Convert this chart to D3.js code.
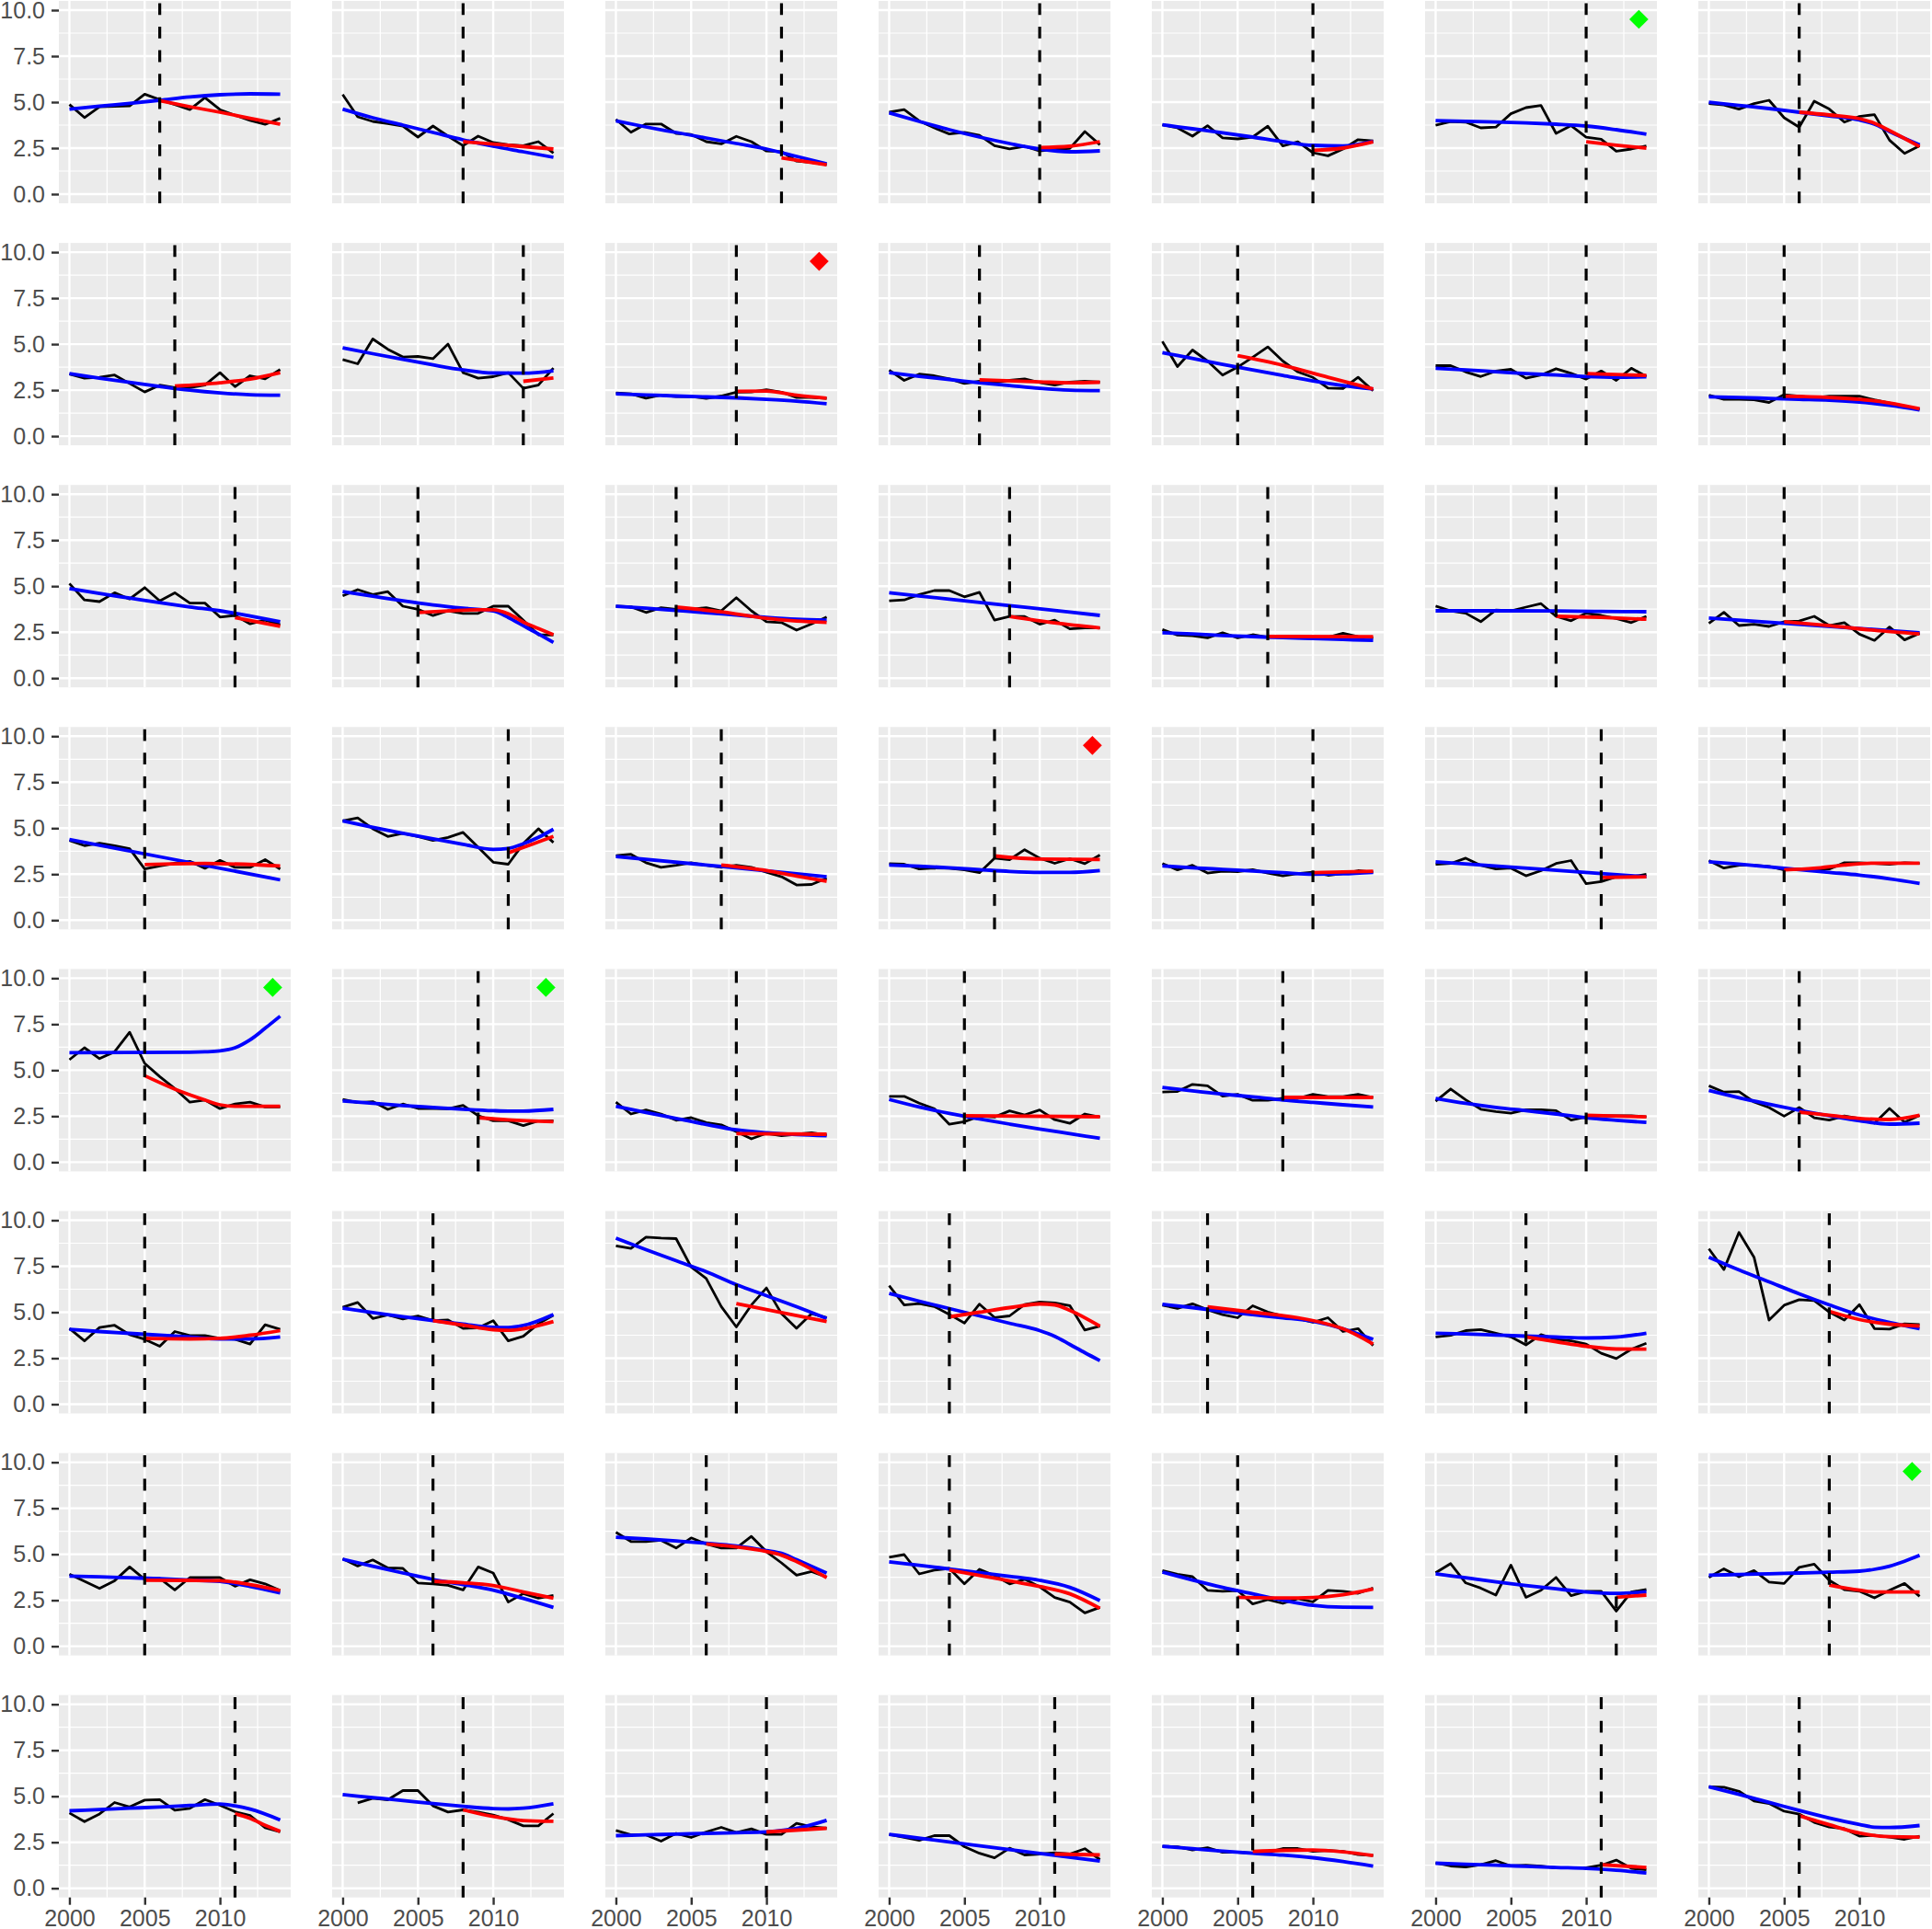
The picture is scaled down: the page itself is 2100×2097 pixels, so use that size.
<!DOCTYPE html>
<html>
<head>
<meta charset="utf-8">
<script src="https://cdn.jsdelivr.net/npm/d3@7"></script>
<style>
    body{margin:0;background:#ffffff;}
    svg text{font-family:"Liberation Sans", Arial, sans-serif;}
</style>
</head>
<body>
<div id="chart"></div>
<script>
// ---- data (panels in row-major order, 8 rows x 7 columns) ----
const years = [2000,2001,2002,2003,2004,2005,2006,2007,2008,2009,2010,2011,2012,2013,2014];
const xTickValues = [2000,2005,2010];
const yTickValues = [0,2.5,5,7.5,10];

const observed = [
    [4.87,4.16,4.74,4.77,4.79,5.43,5.13,4.87,4.59,5.24,4.59,4.29,4.0,3.79,4.12],
    [5.41,4.2,3.95,3.83,3.7,3.1,3.7,3.15,2.63,3.15,2.8,2.68,2.63,2.85,2.23],
    [4.06,3.36,3.81,3.81,3.3,3.24,2.85,2.73,3.14,2.85,2.34,2.31,1.79,1.72,1.59],
    [4.45,4.59,3.98,3.6,3.27,3.36,3.19,2.63,2.46,2.6,2.34,2.43,2.48,3.4,2.68],
    [3.77,3.6,3.15,3.72,3.06,3.0,3.1,3.69,2.62,2.84,2.25,2.08,2.45,2.96,2.89],
    [3.74,3.94,3.91,3.6,3.64,4.37,4.7,4.82,3.3,3.72,3.09,2.98,2.33,2.45,2.62],
    [4.92,4.84,4.62,4.92,5.1,4.15,3.64,5.05,4.62,3.91,4.22,4.32,2.93,2.21,2.62],

    [3.37,3.15,3.2,3.32,2.86,2.4,2.77,2.64,2.64,2.77,3.45,2.69,3.28,3.11,3.62],
    [4.16,3.93,5.28,4.72,4.3,4.33,4.21,5.0,3.45,3.15,3.23,3.45,2.6,2.77,3.7],
    [2.35,2.3,2.06,2.23,2.15,2.15,2.05,2.18,2.39,2.4,2.52,2.39,2.1,2.1,2.05],
    [3.59,3.03,3.37,3.28,3.11,2.86,2.98,2.91,3.03,3.11,2.91,2.77,2.94,2.98,2.94],
    [5.15,3.78,4.68,4.08,3.32,3.75,4.29,4.85,4.08,3.49,3.19,2.61,2.59,3.2,2.47],
    [3.83,3.83,3.49,3.24,3.53,3.63,3.15,3.32,3.66,3.41,3.1,3.54,3.03,3.69,3.24],
    [2.22,2.0,2.0,1.97,1.83,2.25,2.17,2.08,2.17,2.17,2.17,1.97,1.8,1.63,1.46],

    [5.14,4.25,4.16,4.64,4.3,4.92,4.2,4.64,4.08,4.08,3.32,3.41,2.95,3.15,2.9],
    [4.47,4.81,4.54,4.7,3.91,3.74,3.4,3.66,3.52,3.52,3.91,3.91,3.15,2.36,2.34],
    [3.91,3.88,3.57,3.83,3.74,3.74,3.83,3.66,4.37,3.66,3.07,3.02,2.61,2.95,3.32],
    [4.2,4.25,4.54,4.76,4.76,4.42,4.67,3.15,3.35,3.35,2.93,3.15,2.68,2.73,2.73],
    [2.64,2.34,2.31,2.19,2.47,2.19,2.36,2.22,2.27,2.27,2.22,2.22,2.44,2.25,2.19],
    [3.92,3.66,3.53,3.07,3.7,3.66,3.86,4.05,3.36,3.12,3.53,3.41,3.24,3.02,3.36],
    [2.98,3.58,2.86,2.93,2.81,3.07,3.1,3.36,2.86,3.02,2.39,2.05,2.78,2.08,2.44],

    [4.33,4.05,4.18,4.05,3.88,2.78,2.95,3.09,3.2,2.82,3.25,2.87,2.87,3.29,2.78],
    [5.4,5.56,4.97,4.55,4.72,4.55,4.33,4.5,4.77,3.96,3.15,3.04,4.16,4.97,4.22],
    [3.51,3.58,3.12,2.87,2.98,3.12,2.98,2.87,2.98,2.87,2.61,2.36,1.91,1.94,2.28],
    [3.07,3.04,2.78,2.83,2.82,2.73,2.58,3.37,3.29,3.83,3.37,3.09,3.34,3.07,3.54],
    [3.08,2.73,2.98,2.56,2.66,2.64,2.75,2.56,2.41,2.53,2.61,2.44,2.53,2.69,2.61],
    [3.03,3.08,3.37,2.98,2.78,2.83,2.41,2.69,3.08,3.24,1.98,2.1,2.36,2.36,2.49],
    [3.24,2.83,2.98,2.98,2.92,2.73,2.78,2.78,2.78,3.12,3.12,3.08,3.03,3.12,3.08],

    [5.57,6.22,5.63,6.0,7.06,5.37,4.65,4.0,3.26,3.38,2.91,3.16,3.26,3.0,3.0],
    [3.41,3.24,3.29,2.87,3.16,2.92,2.92,2.9,3.09,2.53,2.25,2.25,1.99,2.25,2.25],
    [3.26,2.62,2.84,2.62,2.28,2.42,2.15,2.03,1.66,1.27,1.57,1.44,1.52,1.6,1.47],
    [3.58,3.58,3.21,2.91,2.06,2.2,2.5,2.45,2.79,2.57,2.84,2.31,2.11,2.62,2.45],
    [3.81,3.84,4.23,4.15,3.59,3.69,3.36,3.36,3.47,3.47,3.69,3.56,3.56,3.69,3.52],
    [3.31,3.98,3.39,2.88,2.75,2.66,2.85,2.85,2.8,2.29,2.46,2.53,2.53,2.53,2.46],
    [4.15,3.81,3.84,3.27,2.97,2.5,2.97,2.41,2.29,2.51,2.38,2.12,2.92,2.17,2.55],

    [4.12,3.44,4.17,4.29,3.78,3.53,3.15,3.95,3.73,3.73,3.58,3.53,3.27,4.32,4.07],
    [5.27,5.53,4.66,4.85,4.63,4.8,4.54,4.58,4.12,4.15,4.54,3.44,3.69,4.37,4.83],
    [8.61,8.47,9.08,9.03,9.0,7.46,6.83,5.31,4.2,5.39,6.32,4.92,4.12,4.92,4.71],
    [6.44,5.39,5.47,5.31,4.88,4.41,5.44,4.71,4.8,5.42,5.56,5.5,5.36,4.03,4.24],
    [5.38,5.21,5.46,5.13,4.87,4.7,5.35,5.01,4.79,4.65,4.45,4.7,3.95,4.11,3.19],
    [3.66,3.74,4.0,4.06,3.86,3.66,3.22,3.78,3.52,3.44,3.27,2.77,2.48,2.99,3.31],
    [8.45,7.32,9.34,7.99,4.57,5.38,5.68,5.63,5.01,4.57,5.41,4.11,4.08,4.37,4.33],

    [3.92,3.53,3.14,3.56,4.31,3.64,3.69,3.06,3.73,3.73,3.73,3.26,3.61,3.39,3.03],
    [4.76,4.36,4.69,4.26,4.23,3.44,3.39,3.31,3.06,4.31,3.98,2.4,2.86,2.61,2.76],
    [6.19,5.69,5.69,5.76,5.34,5.89,5.56,5.34,5.34,5.97,5.14,4.53,3.86,4.06,3.76],
    [4.84,4.98,3.93,4.14,4.23,3.39,4.18,3.84,3.39,3.64,3.23,2.65,2.4,1.81,2.11],
    [4.11,3.91,3.78,3.04,2.99,3.03,2.3,2.53,2.33,2.58,2.41,3.04,2.99,2.88,3.16],
    [3.99,4.49,3.44,3.16,2.78,4.41,2.66,3.04,3.74,2.75,2.99,2.99,1.91,2.95,3.08],
    [3.74,4.21,3.78,4.11,3.49,3.41,4.29,4.46,3.58,3.08,2.99,2.63,3.04,3.41,2.71],

    [4.09,3.62,4.04,4.66,4.42,4.79,4.82,4.24,4.34,4.82,4.51,4.16,3.96,3.29,3.07],
    [null,4.64,4.89,4.81,5.31,5.31,4.48,4.14,4.26,4.14,3.98,3.73,3.39,3.39,4.06],
    [3.14,2.9,2.9,2.56,2.98,2.76,3.06,3.31,3.03,3.23,2.93,2.93,3.53,3.34,3.26],
    [2.93,2.76,2.6,2.86,2.86,2.26,1.9,1.65,2.18,1.81,1.86,1.93,1.86,2.15,1.56],
    [2.28,2.25,2.08,2.2,1.95,1.95,1.91,1.95,2.16,2.16,2.0,2.05,2.0,1.83,1.78],
    [1.38,1.21,1.16,1.28,1.5,1.21,1.25,1.2,1.11,1.11,1.11,1.25,1.53,1.08,1.0],
    [5.52,5.49,5.27,4.74,4.61,4.19,4.03,3.58,3.33,3.24,2.83,2.88,2.78,2.66,2.83]
];

const breakYears = [
    2006,2008,2011,2010,2010,2010,2006,
    2007,2012,2008,2006,2005,2010,2005,
    2011,2005,2004,2008,2007,2008,2005,
    2005,2011,2007,2007,2010,2011,2005,
    2005,2009,2008,2005,2008,2010,2006,
    2005,2006,2008,2004,2003,2006,2008,
    2005,2006,2006,2004,2005,2012,2008,
    2011,2008,2010,2011,2006,2011,2006
];

// full-period fit (blue), [year, value]
const fullFits = [
    [[2000,4.62],[2002,4.78],[2004,4.93],[2006,5.1],[2008,5.28],[2010,5.4],[2012,5.45],[2014,5.43]],
    [[2000,4.62],[2002,4.15],[2004,3.75],[2006,3.35],[2008,2.95],[2010,2.6],[2012,2.3],[2014,2.0]],
    [[2000,3.98],[2002,3.65],[2004,3.35],[2006,3.05],[2008,2.75],[2010,2.45],[2012,2.05],[2014,1.64]],
    [[2000,4.42],[2002,3.95],[2004,3.5],[2006,3.1],[2008,2.75],[2010,2.45],[2012,2.3],[2014,2.35]],
    [[2000,3.77],[2002,3.55],[2004,3.33],[2006,3.1],[2008,2.85],[2010,2.65],[2012,2.62],[2014,2.87]],
    [[2000,3.99],[2002,3.96],[2004,3.92],[2006,3.87],[2008,3.8],[2010,3.7],[2012,3.5],[2014,3.26]],
    [[2000,4.99],[2002,4.82],[2004,4.65],[2006,4.45],[2008,4.25],[2010,4.03],[2011,3.8],[2012,3.4],[2014,2.67]],

    [[2000,3.4],[2002,3.15],[2004,2.92],[2006,2.7],[2008,2.5],[2010,2.35],[2012,2.25],[2014,2.22]],
    [[2000,4.8],[2002,4.48],[2004,4.17],[2006,3.87],[2008,3.6],[2010,3.43],[2012,3.42],[2014,3.55]],
    [[2000,2.3],[2002,2.24],[2004,2.18],[2006,2.13],[2008,2.08],[2010,2.0],[2012,1.9],[2014,1.76]],
    [[2000,3.45],[2002,3.25],[2004,3.08],[2006,2.9],[2008,2.75],[2010,2.6],[2012,2.5],[2014,2.47]],
    [[2000,4.54],[2002,4.22],[2004,3.9],[2006,3.6],[2008,3.3],[2010,3.0],[2012,2.75],[2014,2.56]],
    [[2000,3.69],[2002,3.6],[2004,3.5],[2006,3.4],[2008,3.32],[2010,3.24],[2012,3.2],[2014,3.22]],
    [[2000,2.14],[2002,2.1],[2004,2.05],[2006,2.0],[2008,1.95],[2010,1.85],[2012,1.67],[2014,1.42]],

    [[2000,4.87],[2002,4.6],[2004,4.35],[2006,4.1],[2008,3.87],[2010,3.66],[2012,3.38],[2014,3.07]],
    [[2000,4.7],[2002,4.45],[2004,4.2],[2006,3.98],[2008,3.8],[2010,3.65],[2011,3.3],[2012,2.85],[2013,2.4],[2014,1.94]],
    [[2000,3.91],[2002,3.8],[2004,3.68],[2006,3.56],[2008,3.43],[2010,3.3],[2012,3.2],[2014,3.15]],
    [[2000,4.64],[2004,4.29],[2008,3.94],[2012,3.59],[2014,3.41]],
    [[2000,2.47],[2002,2.4],[2004,2.32],[2006,2.26],[2008,2.2],[2010,2.15],[2012,2.1],[2014,2.05]],
    [[2000,3.66],[2004,3.66],[2008,3.65],[2011,3.63],[2014,3.61]],
    [[2000,3.27],[2007,2.87],[2014,2.47]],

    [[2000,4.38],[2007,3.29],[2014,2.19]],
    [[2000,5.4],[2002,5.05],[2004,4.72],[2006,4.42],[2008,4.12],[2010,3.85],[2011,3.9],[2012,4.15],[2013,4.5],[2014,4.94]],
    [[2000,3.46],[2007,2.92],[2014,2.36]],
    [[2000,3.0],[2002,2.93],[2004,2.85],[2006,2.75],[2008,2.65],[2010,2.6],[2012,2.6],[2014,2.7]],
    [[2000,2.95],[2002,2.85],[2004,2.76],[2006,2.67],[2008,2.58],[2010,2.5],[2012,2.52],[2014,2.6]],
    [[2000,3.17],[2007,2.77],[2014,2.36]],
    [[2000,3.17],[2002,3.05],[2004,2.9],[2006,2.75],[2008,2.6],[2010,2.45],[2012,2.25],[2014,2.0]],

    [[2000,5.95],[2004,5.96],[2008,5.98],[2009,6.0],[2010,6.05],[2011,6.22],[2012,6.65],[2013,7.28],[2014,7.94]],
    [[2000,3.33],[2002,3.2],[2004,3.08],[2006,2.98],[2008,2.88],[2010,2.8],[2011,2.78],[2012,2.78],[2014,2.87]],
    [[2000,3.04],[2002,2.7],[2004,2.38],[2006,2.05],[2008,1.76],[2010,1.6],[2012,1.5],[2014,1.44]],
    [[2000,3.41],[2002,3.0],[2004,2.65],[2006,2.35],[2008,2.07],[2010,1.8],[2012,1.55],[2014,1.3]],
    [[2000,4.06],[2002,3.88],[2004,3.7],[2006,3.55],[2008,3.38],[2010,3.25],[2012,3.12],[2014,3.0]],
    [[2000,3.47],[2002,3.2],[2004,2.98],[2006,2.8],[2008,2.62],[2010,2.42],[2012,2.28],[2014,2.16]],
    [[2000,3.9],[2002,3.5],[2004,3.15],[2006,2.82],[2008,2.52],[2010,2.25],[2012,2.07],[2014,2.12]],

    [[2000,4.07],[2002,3.95],[2004,3.85],[2006,3.75],[2008,3.65],[2010,3.55],[2012,3.55],[2014,3.66]],
    [[2000,5.22],[2002,4.98],[2004,4.76],[2006,4.55],[2008,4.35],[2010,4.18],[2011,4.17],[2012,4.28],[2014,4.88]],
    [[2000,9.03],[2002,8.4],[2004,7.8],[2006,7.2],[2008,6.5],[2010,5.9],[2012,5.3],[2014,4.66]],
    [[2000,6.02],[2002,5.6],[2004,5.2],[2006,4.8],[2008,4.4],[2010,4.0],[2011,3.69],[2012,3.25],[2013,2.8],[2014,2.37]],
    [[2000,5.43],[2002,5.25],[2004,5.05],[2006,4.87],[2008,4.7],[2010,4.5],[2012,4.1],[2014,3.52]],
    [[2000,3.86],[2002,3.82],[2004,3.76],[2006,3.7],[2008,3.65],[2010,3.6],[2012,3.65],[2014,3.86]],
    [[2000,7.99],[2002,7.3],[2004,6.65],[2006,6.0],[2008,5.4],[2010,4.85],[2012,4.45],[2014,4.1]],

    [[2000,3.81],[2002,3.77],[2004,3.72],[2006,3.67],[2008,3.6],[2010,3.52],[2012,3.25],[2014,2.9]],
    [[2000,4.73],[2002,4.35],[2004,3.98],[2006,3.63],[2008,3.35],[2010,3.05],[2012,2.6],[2014,2.11]],
    [[2000,5.92],[2002,5.83],[2004,5.72],[2006,5.6],[2008,5.45],[2010,5.2],[2011,5.05],[2012,4.7],[2014,3.98]],
    [[2000,4.59],[2002,4.4],[2004,4.2],[2006,4.0],[2008,3.8],[2010,3.58],[2012,3.2],[2014,2.48]],
    [[2000,4.03],[2002,3.6],[2004,3.2],[2006,2.85],[2008,2.5],[2010,2.22],[2012,2.12],[2014,2.11]],
    [[2000,3.94],[2002,3.72],[2004,3.5],[2006,3.3],[2008,3.12],[2010,2.95],[2012,2.87],[2014,2.96]],
    [[2000,3.86],[2002,3.9],[2004,3.94],[2006,3.98],[2008,4.02],[2010,4.08],[2011,4.18],[2012,4.35],[2013,4.62],[2014,4.94]],

    [[2000,4.21],[2002,4.28],[2004,4.35],[2006,4.42],[2008,4.5],[2010,4.58],[2011,4.48],[2012,4.3],[2014,3.71]],
    [[2000,5.09],[2002,4.93],[2004,4.77],[2006,4.6],[2008,4.45],[2010,4.33],[2011,4.31],[2012,4.35],[2014,4.59]],
    [[2000,2.86],[2002,2.9],[2004,2.94],[2006,2.98],[2008,3.02],[2010,3.07],[2012,3.25],[2014,3.69]],
    [[2000,2.93],[2007,2.2],[2014,1.48]],
    [[2000,2.28],[2002,2.15],[2004,2.02],[2006,1.9],[2008,1.8],[2010,1.66],[2012,1.45],[2014,1.2]],
    [[2000,1.36],[2002,1.3],[2004,1.25],[2006,1.19],[2008,1.13],[2010,1.08],[2012,0.98],[2014,0.83]],
    [[2000,5.52],[2002,5.1],[2004,4.67],[2006,4.23],[2008,3.82],[2010,3.47],[2011,3.32],[2012,3.3],[2014,3.41]]
];

// post-break fit (red), [year, value]
const breakFits = [
    [[2006,5.08],[2008,4.75],[2010,4.45],[2012,4.12],[2014,3.8]],
    [[2008,2.85],[2011,2.65],[2014,2.45]],
    [[2011,1.97],[2014,1.59]],
    [[2010,2.53],[2012,2.6],[2014,2.85]],
    [[2010,2.38],[2012,2.5],[2014,2.84]],
    [[2010,2.84],[2012,2.66],[2014,2.5]],
    [[2006,4.45],[2008,4.3],[2010,4.1],[2011,3.85],[2012,3.45],[2014,2.58]],

    [[2007,2.72],[2010,2.9],[2012,3.1],[2014,3.45]],
    [[2012,2.98],[2014,3.16]],
    [[2008,2.44],[2010,2.45],[2012,2.22],[2014,2.06]],
    [[2006,3.06],[2010,2.95],[2012,2.9],[2014,2.93]],
    [[2005,4.37],[2008,3.85],[2011,3.2],[2014,2.56]],
    [[2010,3.4],[2014,3.3]],
    [[2005,2.17],[2008,2.1],[2010,2.0],[2012,1.8],[2014,1.49]],

    [[2011,3.29],[2014,2.82]],
    [[2005,3.57],[2007,3.65],[2009,3.72],[2010,3.72],[2011,3.5],[2012,3.05],[2013,2.7],[2014,2.36]],
    [[2004,3.86],[2007,3.6],[2010,3.25],[2012,3.1],[2014,3.03]],
    [[2008,3.35],[2011,3.0],[2014,2.73]],
    [[2007,2.27],[2014,2.25]],
    [[2008,3.36],[2011,3.3],[2014,3.2]],
    [[2005,3.07],[2008,2.85],[2011,2.6],[2014,2.4]],

    [[2005,3.02],[2009,3.08],[2014,2.95]],
    [[2011,3.66],[2012,3.95],[2013,4.25],[2014,4.55]],
    [[2007,3.0],[2010,2.7],[2012,2.4],[2014,2.11]],
    [[2007,3.49],[2010,3.32],[2014,3.3]],
    [[2010,2.58],[2014,2.66]],
    [[2011,2.32],[2014,2.36]],
    [[2005,2.73],[2007,2.82],[2009,3.0],[2011,3.1],[2014,3.1]],

    [[2005,4.7],[2007,3.97],[2009,3.38],[2010,3.12],[2011,3.04],[2014,3.04]],
    [[2009,2.42],[2011,2.3],[2014,2.2]],
    [[2008,1.55],[2014,1.52]],
    [[2005,2.53],[2014,2.47]],
    [[2008,3.52],[2014,3.52]],
    [[2010,2.55],[2014,2.46]],
    [[2006,2.72],[2008,2.55],[2010,2.38],[2012,2.32],[2014,2.55]],

    [[2005,3.58],[2008,3.55],[2010,3.58],[2012,3.75],[2014,4.0]],
    [[2006,4.54],[2008,4.3],[2010,4.05],[2011,4.02],[2012,4.1],[2014,4.49]],
    [[2008,5.47],[2014,4.49]],
    [[2004,4.75],[2006,5.0],[2008,5.25],[2010,5.45],[2011,5.4],[2012,5.1],[2014,4.24]],
    [[2003,5.3],[2006,5.0],[2009,4.7],[2011,4.35],[2012,4.1],[2014,3.27]],
    [[2006,3.66],[2008,3.4],[2010,3.15],[2012,3.0],[2014,2.99]],
    [[2008,5.05],[2010,4.6],[2012,4.35],[2014,4.25]],

    [[2005,3.59],[2008,3.58],[2010,3.56],[2012,3.35],[2014,3.03]],
    [[2006,3.53],[2008,3.45],[2010,3.3],[2012,2.95],[2014,2.61]],
    [[2006,5.56],[2008,5.4],[2010,5.15],[2011,4.95],[2012,4.6],[2014,3.73]],
    [[2004,4.14],[2006,3.85],[2008,3.55],[2010,3.25],[2012,2.85],[2014,2.06]],
    [[2005,2.66],[2008,2.62],[2010,2.65],[2012,2.8],[2014,3.11]],
    [[2012,2.66],[2014,2.78]],
    [[2008,3.33],[2010,3.05],[2011,2.95],[2014,2.95]],

    [[2011,4.04],[2012,3.8],[2013,3.42],[2014,3.09]],
    [[2008,4.26],[2010,3.9],[2012,3.68],[2014,3.64]],
    [[2010,3.06],[2014,3.26]],
    [[2011,1.86],[2014,1.81]],
    [[2006,2.0],[2008,2.06],[2010,2.08],[2012,1.98],[2014,1.78]],
    [[2011,1.28],[2014,1.13]],
    [[2006,3.94],[2008,3.45],[2010,3.0],[2012,2.8],[2014,2.78]]
];

// marker in the top-right corner of a panel ("" = none)
const flags = [
    "","","","","","green","",
    "","","red","","","","",
    "","","","","","","",
    "","","","red","","","",
    "green","green","","","","","",
    "","","","","","","",
    "","","","","","","green",
    "","","","","","",""
];
const flagPoint = [2013.5, 9.5];

// ---- layout ----
const nCols = 7, nRows = 8;
const panelW = 252, panelH = 220;
const colStep = 297, rowStep = 263.1;
const panelLeft = 64, panelTop = 1;

const svg = d3.select("#chart").append("svg")
    .attr("width", 2100)
    .attr("height", 2097);

const x = d3.scaleLinear().domain([1999.3, 2014.7]).range([0, panelW]);
const y = d3.scaleLinear().domain([-0.5, 10.5]).range([panelH, 0]);

const xMinor = [2002.5, 2007.5, 2012.5];
const yMinor = [1.25, 3.75, 6.25, 8.75];

const obsLine = d3.line()
    .defined(d=>d[1] !== null)
    .x(d=>x(d[0]))
    .y(d=>y(d[1]));

const fitLine = d3.line()
    .curve(d3.curveMonotoneX)
    .x(d=>x(d[0]))
    .y(d=>y(d[1]));

observed.forEach((obs, i)=>{
    const col = i % nCols;
    const row = Math.floor(i / nCols);
    const g = svg.append("g")
        .attr("class","panelG")
        .attr("transform","translate(" + (panelLeft + col*colStep) + "," + (panelTop + row*rowStep) + ")");

    g.append("rect")
        .attr("width", panelW)
        .attr("height", panelH)
        .attr("fill", "#EBEBEB");

    // grid
    g.selectAll(".minorX").data(xMinor).join("line")
        .attr("class","minorX")
        .attr("x1", d=>x(d)).attr("x2", d=>x(d))
        .attr("y1", 0).attr("y2", panelH)
        .attr("stroke","#fff").attr("stroke-width",1.2);
    g.selectAll(".minorY").data(yMinor).join("line")
        .attr("class","minorY")
        .attr("x1", 0).attr("x2", panelW)
        .attr("y1", d=>y(d)).attr("y2", d=>y(d))
        .attr("stroke","#fff").attr("stroke-width",1.2);
    g.selectAll(".majorX").data(xTickValues).join("line")
        .attr("class","majorX")
        .attr("x1", d=>x(d)).attr("x2", d=>x(d))
        .attr("y1", 0).attr("y2", panelH)
        .attr("stroke","#fff").attr("stroke-width",2.4);
    g.selectAll(".majorY").data(yTickValues).join("line")
        .attr("class","majorY")
        .attr("x1", 0).attr("x2", panelW)
        .attr("y1", d=>y(d)).attr("y2", d=>y(d))
        .attr("stroke","#fff").attr("stroke-width",2.4);

    // observed series
    g.append("path")
        .datum(years.map((yr, k)=>[yr, obs[k]]))
        .attr("d", obsLine)
        .attr("fill","none")
        .attr("stroke","#000")
        .attr("stroke-width",2.8)
        .attr("stroke-linejoin","round");

    // fits
    g.append("path")
        .datum(fullFits[i])
        .attr("d", fitLine)
        .attr("fill","none")
        .attr("stroke","#0000FF")
        .attr("stroke-width",3.8);

    g.append("path")
        .datum(breakFits[i])
        .attr("d", fitLine)
        .attr("fill","none")
        .attr("stroke","#FF0000")
        .attr("stroke-width",3.8);

    // break year
    g.append("line")
        .attr("x1", x(breakYears[i])).attr("x2", x(breakYears[i]))
        .attr("y1", panelH).attr("y2", 0)
        .attr("stroke","#000")
        .attr("stroke-width",3.2)
        .attr("stroke-dasharray","12.8,12.8");

    if(flags[i] !== ""){
        g.append("path")
            .attr("d", d3.symbol(d3.symbolSquare, 215)())
            .attr("transform","translate(" + x(flagPoint[0]) + "," + y(flagPoint[1]) + ") rotate(45)")
            .attr("fill", flags[i] === "green" ? "#00FF00" : "#FF0000");
    }

    // axes only on the outer panels
    if(col === 0){
        const ax = g.append("g")
            .call(d3.axisLeft(y).tickValues(yTickValues).tickFormat(d3.format(".1f"))
                .tickSize(8).tickPadding(7).tickSizeOuter(0));
        ax.select(".domain").remove();
        ax.selectAll("line").attr("stroke","#333333").attr("stroke-width",2.4);
        ax.selectAll("text").attr("fill","#4D4D4D").attr("font-size",25);
    }
    if(row === nRows - 1){
        const ax = g.append("g")
            .attr("transform","translate(0," + panelH + ")")
            .call(d3.axisBottom(x).tickValues(xTickValues).tickFormat(d3.format("d"))
                .tickSize(8).tickPadding(6).tickSizeOuter(0));
        ax.select(".domain").remove();
        ax.selectAll("line").attr("stroke","#333333").attr("stroke-width",2.4);
        ax.selectAll("text").attr("fill","#4D4D4D").attr("font-size",25);
    }
});
</script>
</body>
</html>
